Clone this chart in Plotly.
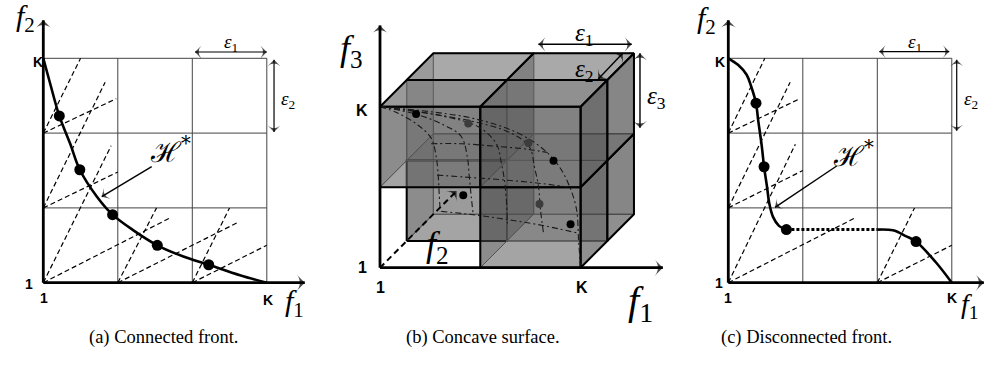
import plotly.graph_objects as go

W, H = 985, 365
OFF = 0                      # body margin removed by post_script below
FW, FH = W - 2 * OFF, H - 2 * OFF

# ---------------- panel (a): connected front (cell units, 1 -> 0, K -> 3) ----------------
A_GRID = [0, 1, 2, 3]
A_FRONT_X = [0.0, 0.09, 0.215, 0.36, 0.49, 0.72, 0.93, 1.21, 1.53, 1.88, 2.22, 2.64, 3.0]
A_FRONT_Y = [3.0, 2.67, 2.23, 1.86, 1.51, 1.15, 0.91, 0.70, 0.50, 0.35, 0.24, 0.10, 0.0]
A_POINTS_X = [0.215, 0.49, 0.93, 1.53, 2.22]
A_POINTS_Y = [2.23, 1.51, 0.91, 0.50, 0.24]
A_CONE_X0 = [0, 0, 0, 0, 0, 0, 1, 1, 2, 2]
A_CONE_Y0 = [2, 2, 1, 1, 0, 0, 0, 0, 0, 0]
A_CONE_X1 = [0.50, 0.98, 0.83, 1.00, 0.91, 1.69, 1.52, 2.60, 2.50, 3.00]
A_CONE_Y1 = [3.00, 2.46, 2.68, 1.48, 1.83, 0.86, 1.00, 0.80, 1.00, 0.50]

# ---------------- panel (c): disconnected front ----------------
C_GRID = [0, 1, 2, 3]
C_FRONT1_X = [0.0, 0.134, 0.246, 0.305, 0.372, 0.40, 0.45, 0.48, 0.52, 0.55, 0.60, 0.68, 0.78]
C_FRONT1_Y = [3.0, 2.91, 2.78, 2.63, 2.40, 2.18, 1.82, 1.55, 1.28, 1.06, 0.88, 0.76, 0.71]
C_GAP_X = [0.78, 2.0]
C_GAP_Y = [0.71, 0.71]
C_FRONT2_X = [2.0, 2.21, 2.39, 2.52, 2.78, 3.0]
C_FRONT2_Y = [0.71, 0.70, 0.62, 0.55, 0.28, 0.0]
C_POINTS_X = [0.372, 0.48, 0.78, 2.52]
C_POINTS_Y = [2.40, 1.55, 0.71, 0.55]
C_CONE_X0 = [0, 0, 0, 0, 0, 0, 2, 2]
C_CONE_Y0 = [2, 2, 1, 1, 0, 0, 0, 0]
C_CONE_X1 = [0.49, 0.96, 0.83, 1.00, 0.90, 1.69, 2.50, 3.00]
C_CONE_Y1 = [3.00, 2.46, 2.68, 1.50, 1.85, 0.86, 1.00, 0.50]

# ---------------- panel (b): concave surface (boxes in f1,f2,f3 cells) ----------------
B_BOX_F1 = [0, 1, 0, 1, 1, 0, 1]
B_BOX_F2 = [0, 0, 1, 1, 0, 1, 1]
B_BOX_F3 = [1, 1, 1, 1, 0, 0, 0]
B_F2_AXIS_LEN = 2.87
# surface mesh, drawn in the front plane (u along f1, v along f3)
B_M1_U = [0.0, 0.18, 0.38, 0.51, 0.56, 0.58, 0.59, 0.60]
B_M1_V = [2.0, 1.92, 1.77, 1.61, 1.38, 1.15, 0.92, 0.70]
B_M2_U = [0.0, 0.38, 0.64, 0.81, 0.87, 0.89, 0.91, 0.93]
B_M2_V = [2.0, 1.90, 1.77, 1.63, 1.38, 1.13, 0.88, 0.65]
B_M3_U = [0.0, 0.64, 0.98, 1.16, 1.21, 1.24, 1.26, 1.27]
B_M3_V = [2.0, 1.88, 1.75, 1.54, 1.30, 1.09, 0.84, 0.55]
B_M4_U = [0.0, 0.88, 1.31, 1.49, 1.54, 1.58, 1.60, 1.63]
B_M4_V = [2.0, 1.83, 1.67, 1.50, 1.25, 1.01, 0.72, 0.43]
B_M5_U = [0.0, 0.91, 1.38, 1.64, 1.79, 1.89, 1.96, 1.98, 2.0]
B_M5_V = [2.0, 1.86, 1.67, 1.46, 1.25, 1.01, 0.72, 0.34, 0.0]
B_P1_U = [0.51, 0.81, 1.14, 1.48, 1.67]
B_P1_V = [1.54, 1.54, 1.51, 1.47, 1.43]
B_P2_U = [0.57, 0.91, 1.24, 1.58, 1.89]
B_P2_V = [1.15, 1.12, 1.09, 1.05, 1.00]
B_P3_U = [0.61, 0.98, 1.31, 1.64, 1.97]
B_P3_V = [0.70, 0.65, 0.59, 0.52, 0.43]
B_DOTS_U = [0.36, 0.88, 1.48, 1.73, 0.83, 1.59, 1.90]
B_DOTS_V = [1.91, 1.79, 1.55, 1.33, 0.90, 0.79, 0.54]
B_DOT_COLORS = ["#000000", "#3c3c3c", "#3c3c3c", "#000000", "#000000", "#3c3c3c", "#000000"]

TICK_LOW, TICK_HIGH = "1", "K"
CAPTIONS = ["(a) Connected front.", "(b) Concave surface.", "(c) Disconnected front."]

# oblique projection for panel (b)
DU, DV = 0.266, 0.332


def proj(f1, f2, f3):
    return f1 + DU * f2, f3 + DV * f2


fig = go.Figure()
SKIP = "skip"


def line(xs, ys, ax, color="black", width=1.0, dash="solid", shape="linear"):
    fig.add_trace(go.Scatter(x=xs, y=ys, mode="lines", xaxis=ax[0], yaxis=ax[1],
                             line=dict(color=color, width=width, dash=dash, shape=shape),
                             hoverinfo=SKIP, showlegend=False))


def dots(xs, ys, ax, size=11, color="black"):
    fig.add_trace(go.Scatter(x=xs, y=ys, mode="markers", xaxis=ax[0], yaxis=ax[1],
                             marker=dict(size=size, color=color, line=dict(width=0)),
                             hoverinfo=SKIP, showlegend=False))


def head(xs, ys, ax, size):
    fig.add_trace(go.Scatter(x=xs, y=ys, mode="markers", xaxis=ax[0], yaxis=ax[1],
                             marker=dict(symbol="arrow-wide", size=[0, size], angleref="previous",
                                         color="black", line=dict(width=0)),
                             hoverinfo=SKIP, showlegend=False))


def arrow(x0, y0, x1, y1, ax, both=False, width=1.2, size=9, dash="solid"):
    line([x0, x1], [y0, y1], ax, width=width, dash=dash)
    head([x0, x1], [y0, y1], ax, size)
    if both:
        head([x1, x0], [y1, y0], ax, size)


annotations = []


def label(px, py, text, size, family="Liberation Serif", bold=False):
    annotations.append(dict(x=(px - OFF) / FW, y=1 - (py - OFF) / FH, xref="paper", yref="paper",
                            text=text, showarrow=False, xanchor="center", yanchor="middle",
                            font=dict(size=size, family=family, color="black",
                                      weight="bold" if bold else "normal")))


def grid_panel(ax, grid):
    g0, g1 = grid[0], grid[-1]
    for g in grid[1:]:
        line([g, g], [g0, g1], ax, color="#444444", width=1)
        line([g0, g1], [g, g], ax, color="#444444", width=1)


# ---------- panel (a) ----------
AX_A = ("x", "y")
grid_panel(AX_A, A_GRID)
for x0, y0, x1, y1 in zip(A_CONE_X0, A_CONE_Y0, A_CONE_X1, A_CONE_Y1):
    line([x0, x1], [y0, y1], AX_A, width=1.2, dash="5px,3px")
line(A_FRONT_X, A_FRONT_Y, AX_A, width=2.6, shape="spline")
dots(A_POINTS_X, A_POINTS_Y, AX_A)
arrow(0, 0, 0, 3.51, AX_A, width=2.8, size=12)
arrow(0, 0, 3.51, 0, AX_A, width=2.8, size=12)
arrow(2.036, 3.084, 3.0, 3.084, AX_A, both=True)
arrow(3.097, 2.98, 3.097, 2.015, AX_A, both=True)
arrow(1.455, 1.551, 0.784, 1.150, AX_A, width=1.4)

# ---------- panel (c) ----------
AX_C = ("x3", "y3")
grid_panel(AX_C, C_GRID)
for x0, y0, x1, y1 in zip(C_CONE_X0, C_CONE_Y0, C_CONE_X1, C_CONE_Y1):
    line([x0, x1], [y0, y1], AX_C, width=1.2, dash="5px,3px")
line(C_FRONT1_X, C_FRONT1_Y, AX_C, width=2.6, shape="spline")
line(C_GAP_X, C_GAP_Y, AX_C, width=3, dash="3px,2px")
line(C_FRONT2_X, C_FRONT2_Y, AX_C, width=2.6, shape="spline")
dots(C_POINTS_X, C_POINTS_Y, AX_C)
arrow(0, 0, 0, 3.51, AX_C, width=2.8, size=12)
arrow(0, 0, 3.43, 0, AX_C, width=2.8, size=12)
arrow(2.027, 3.09, 2.966, 3.09, AX_C, both=True)
arrow(3.066, 2.98, 3.066, 2.03, AX_C, both=True)
arrow(1.455, 1.56, 0.627, 1.008, AX_C, width=1.4)

# ---------- panel (b) ----------
AX_B = ("x2", "y2")
boxes = set(zip(B_BOX_F1, B_BOX_F2, B_BOX_F3))
faces = {}
for b in boxes:
    for axis in range(3):
        for side in (0, 1):
            key = (axis, b[axis] + side) + tuple(b[a] for a in range(3) if a != axis)
            faces.setdefault(key, []).append(side)
FILLS = {0: "rgba(45,45,45,0.40)", 1: "rgba(85,85,85,0.36)", 2: "rgba(125,125,125,0.36)"}
polys = []
for key, sides in faces.items():
    axis, plane, a, bb = key
    others = [i for i in range(3) if i != axis]
    corners = []
    for da, db in ((0, 0), (1, 0), (1, 1), (0, 1), (0, 0)):
        p = [0, 0, 0]
        p[axis] = plane
        p[others[0]] = a + da
        p[others[1]] = bb + db
        corners.append(p)
    c = [sum(q[i] for q in corners[:4]) / 4 for i in range(3)]
    depth = c[1] - DU * c[0] - DV * c[2]
    facing = {0: 1, 1: 0, 2: 1}[axis]
    visible = len(sides) == 1 and sides[0] == facing
    polys.append((depth, axis, corners, visible))
polys.sort(key=lambda t: -t[0])
for depth, axis, corners, visible in polys:
    uv = [proj(*p) for p in corners]
    fig.add_trace(go.Scatter(x=[q[0] for q in uv], y=[q[1] for q in uv], mode="lines",
                             xaxis="x2", yaxis="y2", fill="toself", fillcolor=FILLS[axis],
                             line=dict(color="black" if visible else "#5a5a5a",
                                       width=2 if visible else 1),
                             hoverinfo=SKIP, showlegend=False))

for us, vs in ((B_M1_U, B_M1_V), (B_M2_U, B_M2_V), (B_M3_U, B_M3_V), (B_M4_U, B_M4_V),
               (B_M5_U, B_M5_V), (B_P1_U, B_P1_V), (B_P2_U, B_P2_V), (B_P3_U, B_P3_V)):
    line(us, vs, AX_B, color="#1a1a1a", width=1.1, dash="6px,3px,2px,3px", shape="spline")
dots(B_DOTS_U, B_DOTS_V, AX_B, size=8, color=B_DOT_COLORS)

# axes of panel (b)
arrow(0, 0, 0, 3.01, AX_B, width=2.8, size=12)
arrow(0, 0, 2.82, 0, AX_B, width=2.8, size=12)
tip_u, tip_v = proj(0, B_F2_AXIS_LEN, 0)
arrow(0, 0, tip_u, tip_v, AX_B, width=2, size=11, dash="6px,4px")
arrow(1.579, 2.775, 2.51, 2.775, AX_B, both=True, width=1.4, size=10)
arrow(2.176, 2.344, 2.42, 2.663, AX_B, both=True, width=1.4, size=10)
arrow(2.592, 2.663, 2.592, 1.739, AX_B, both=True, width=1.4, size=10)

# ---------- text ----------
# panel (a)
label(25, 18, "<i>f</i><sub>2</sub>", 30)
label(294, 303, "<i>f</i><sub>1</sub>", 30)
label(37.5, 62, TICK_HIGH, 14, "Liberation Sans", True)
label(29, 284, TICK_LOW, 14, "Liberation Sans", True)
label(44, 298, TICK_LOW, 14, "Liberation Sans", True)
label(267.5, 299.5, TICK_HIGH, 14, "Liberation Sans", True)
label(231, 43, "<i>ε</i><sub>1</sub>", 19)
label(288, 100, "<i>ε</i><sub>2</sub>", 19)
label(170, 150, "ℋ<sup>*</sup>", 28, "DejaVu Serif")
# panel (b)
label(351, 50, "<i>f</i><sub>3</sub>", 36)
label(640, 303, "<i>f</i><sub>1</sub>", 40)
label(437, 246, "<i>f</i><sub>2</sub>", 36)
label(361.5, 110.5, TICK_HIGH, 16, "Liberation Sans", True)
label(362.5, 267.5, TICK_LOW, 16, "Liberation Sans", True)
label(380, 287, TICK_LOW, 16, "Liberation Sans", True)
label(581.7, 287, TICK_HIGH, 16, "Liberation Sans", True)
label(584, 35, "<i>ε</i><sub>1</sub>", 25)
label(584, 70, "<i>ε</i><sub>2</sub>", 25)
label(656, 97, "<i>ε</i><sub>3</sub>", 25)
# panel (c)
label(706, 20, "<i>f</i><sub>2</sub>", 30)
label(970, 305, "<i>f</i><sub>1</sub>", 28)
label(719.5, 62, TICK_HIGH, 14, "Liberation Sans", True)
label(719, 283, TICK_LOW, 14, "Liberation Sans", True)
label(728, 298, TICK_LOW, 14, "Liberation Sans", True)
label(951.7, 298, TICK_HIGH, 14, "Liberation Sans", True)
label(915, 43, "<i>ε</i><sub>1</sub>", 19)
label(971, 100, "<i>ε</i><sub>2</sub>", 19)
label(853, 155, "ℋ<sup>*</sup>", 28, "DejaVu Serif")
# captions
for cx, cap in zip((163, 482.5, 806), CAPTIONS):
    label(cx, 337, cap, 18.5)


def rng(p0, p1, origin, scale, flip=False):
    if flip:
        return [(origin - p1) / scale, (origin - p0) / scale]
    return [(p0 - origin) / scale, (p1 - origin) / scale]


hidden = dict(visible=False, fixedrange=True, domain=[0, 1])
XP = (OFF, W - OFF)
YP = (OFF, H - OFF)
fig.update_layout(
    width=FW, height=FH, autosize=False,
    margin=dict(l=0, r=0, t=0, b=0, pad=0),
    paper_bgcolor="white", plot_bgcolor="white", showlegend=False,
    xaxis=dict(range=rng(*XP, 43.3, 74.5), **hidden),
    yaxis=dict(range=rng(*YP, 282.7, 74.8, flip=True), **hidden),
    xaxis2=dict(range=rng(*XP, 380.0, 100.3), overlaying="x", anchor="y2", **hidden),
    yaxis2=dict(range=rng(*YP, 267.7, 80.5, flip=True), overlaying="y", anchor="x2", **hidden),
    xaxis3=dict(range=rng(*XP, 728.3, 74.5), overlaying="x", anchor="y3", **hidden),
    yaxis3=dict(range=rng(*YP, 282.7, 74.8, flip=True), overlaying="y", anchor="x3", **hidden),
    annotations=annotations,
)
fig.write_html("out.html", config={"displayModeBar": False, "staticPlot": True},
               post_script="document.body.style.margin='0';document.body.style.overflow='hidden';")
